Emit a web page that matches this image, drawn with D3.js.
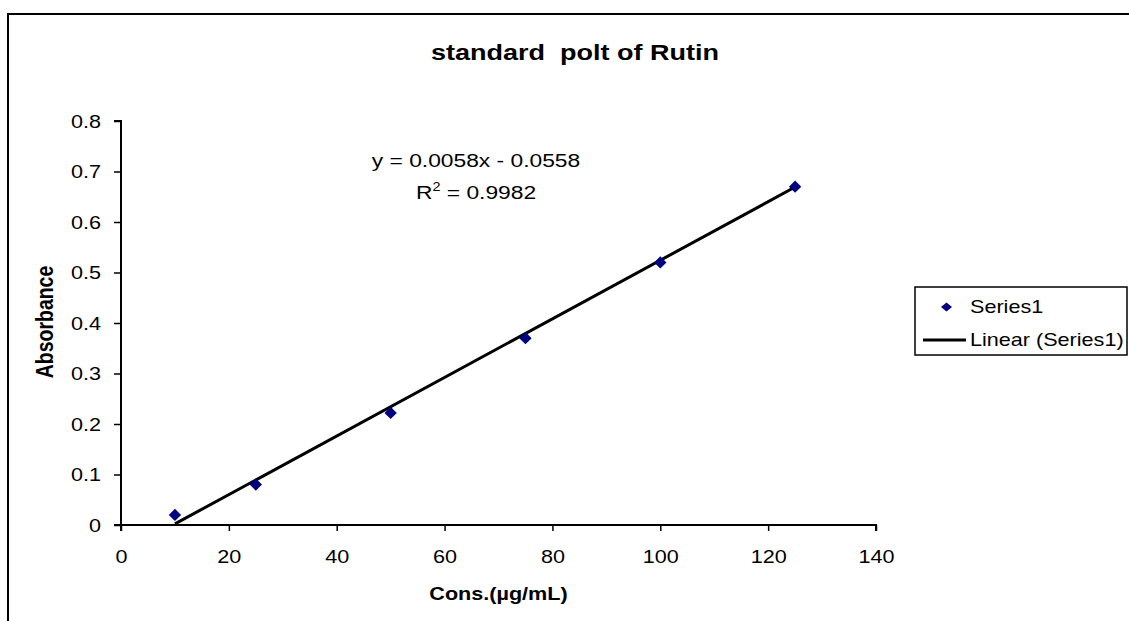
<!DOCTYPE html>
<html><head><meta charset="utf-8">
<script src="https://cdn.jsdelivr.net/npm/d3@7"></script>
<style>
html,body{margin:0;padding:0;background:#fff;}
svg{display:block;font-family:"Liberation Sans",Arial,sans-serif;}
</style></head>
<body>
<svg id="chart" width="1129" height="621"></svg>
<script>
const concentrations = [10, 25, 50, 75, 100, 125];
const absorbances = [0.02, 0.08, 0.222, 0.37, 0.52, 0.67];
const trendSlope = 0.0058;
const trendIntercept = -0.0558;
const rSquared = 0.9982;
const xTicks = [0, 20, 40, 60, 80, 100, 120, 140];
const yTicks = [0, 0.1, 0.2, 0.3, 0.4, 0.5, 0.6, 0.7, 0.8];
const titleText = "standard  polt of Rutin";
const xLabel = "Cons.(µg/mL)";
const yLabel = "Absorbance";
const seriesName = "Series1";
const trendName = "Linear (Series1)";

const SX = 1.2; // horizontal glyph stretch seen in the reference
const svg = d3.select("#chart");
const L = 121, R = 876, T = 121, B = 525;
const x = d3.scaleLinear().domain([0, 140]).range([L, R]);
const y = d3.scaleLinear().domain([0, 0.8]).range([B, T]);

function htext(px, py, size, anchor, bold) {
  return svg.append("text")
    .attr("transform", `translate(${px},${py}) scale(${SX},1)`)
    .attr("text-anchor", anchor).attr("font-size", size)
    .attr("font-weight", bold ? "bold" : "normal").style("white-space", "pre");
}

// outer chart border (extends beyond window)
svg.append("rect").attr("x", 8).attr("y", 14).attr("width", 1200).attr("height", 700)
  .attr("fill", "none").attr("stroke", "#000").attr("stroke-width", 2);

// title
htext(575, 60, 22.5, "middle", true).text(titleText);

// axes
const xAxis = d3.axisBottom(x).tickValues(xTicks).tickSize(6).tickFormat(d3.format("d"));
const gx = svg.append("g").attr("transform", `translate(0,${B})`).call(xAxis);
const yAxis = d3.axisLeft(y).tickValues(yTicks).tickSize(7).tickFormat(d => d === 0 ? "0" : d3.format(".1f")(d));
const gy = svg.append("g").attr("transform", `translate(${L},0)`).call(yAxis);
[gx, gy].forEach(g => {
  g.select(".domain").attr("stroke", "#000").attr("stroke-width", 2);
  g.selectAll(".tick line").attr("stroke", "#000").attr("stroke-width", 1.5);
  g.selectAll(".tick text").attr("font-size", 18).attr("fill", "#000")
   .attr("font-family", "Liberation Sans, Arial, sans-serif");
});
gx.selectAll(".tick text").attr("x", 0).attr("y", 0).attr("dy", "0.35em")
  .attr("transform", `translate(0,32) scale(${SX},1)`);
gy.selectAll(".tick text").attr("x", 0).attr("dy", "0.35em")
  .attr("transform", `translate(-20,0) scale(${SX},1)`);
gx.select(".domain").attr("d", `M${L},6V0H${R}V6`);
gy.select(".domain").attr("d", `M-7,${T}H0V${B}H-7`);

// axis titles
htext((L + R) / 2, 600, 18, "middle", true).text(xLabel);
svg.append("text").attr("transform", `translate(53,${(T + B) / 2 - 1}) rotate(-90) scale(1,${SX})`)
  .attr("text-anchor", "middle").attr("font-size", 19.5).attr("font-weight", "bold").text(yLabel);

// trendline
const xMin = d3.min(concentrations), xMax = d3.max(concentrations);
svg.append("line")
  .attr("x1", x(xMin)).attr("y1", y(trendSlope * xMin + trendIntercept))
  .attr("x2", x(xMax)).attr("y2", y(trendSlope * xMax + trendIntercept))
  .attr("stroke", "#000").attr("stroke-width", 3);

// points
svg.append("g").selectAll("path").data(concentrations.map((c, i) => [c, absorbances[i]]))
  .join("path")
  .attr("d", d3.symbol().type(d3.symbolSquare).size(76))
  .attr("transform", d => `translate(${x(d[0])},${y(d[1])}) rotate(45)`)
  .attr("fill", "#000080");

// equation
htext(476, 167, 19, "middle", false).text(`y = ${trendSlope}x - ${Math.abs(trendIntercept)}`);
const r2 = htext(476, 199, 19, "middle", false);
r2.append("tspan").text("R");
r2.append("tspan").attr("font-size", 12).attr("dy", -8).text("2");
r2.append("tspan").attr("dy", 8).text(` = ${rSquared}`);

// legend
svg.append("rect").attr("x", 915).attr("y", 287).attr("width", 212).attr("height", 68)
  .attr("fill", "#fff").attr("stroke", "#000").attr("stroke-width", 1.5);
svg.append("path").attr("d", d3.symbol().type(d3.symbolSquare).size(42))
  .attr("transform", `translate(946.5,307) scale(${SX},1) rotate(45)`).attr("fill", "#000080");
htext(970, 313, 18, "start", false).text(seriesName);
svg.append("line").attr("x1", 923).attr("x2", 966).attr("y1", 340).attr("y2", 340)
  .attr("stroke", "#000").attr("stroke-width", 3);
htext(970, 346, 18, "start", false).text(trendName);
</script>
</body></html>
